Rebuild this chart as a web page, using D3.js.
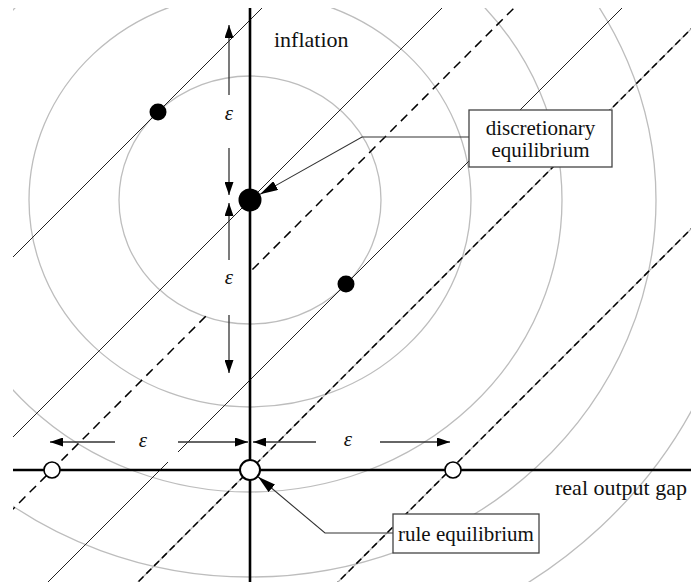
<!DOCTYPE html>
<html>
<head>
<meta charset="utf-8">
<script src="https://cdn.jsdelivr.net/npm/d3@7"></script>
<style>
html,body{margin:0;padding:0;background:#fff;}
svg{display:block;}
</style>
</head>
<body>
<svg id="chart" width="691" height="582"></svg>
<script>
// ---------- data (x = real output gap, y = inflation) ----------
const xDomain = [-2.37, 4.41];
const yDomain = [-1.12, 4.62];
// Phillips-type lines: inflation = gap + intercept
const solidIntercepts  = [4.5, 2.7, 0.9];
const dashedIntercepts = [1.98, 0, -2.0];
const greyUnderDashed  = [0, -2.0];
// loss-function contours centred on the discretionary outcome
const lossCenter = [0, 2.7];
const lossRx = [1.31, 2.21, 3.12, 4.06, 4.96];
const lossRy = [1.24, 2.07, 2.92, 3.77, 4.62];
// equilibria
const discretionaryEq = [0, 2.7];
const discretionaryDots = [[-0.92, 3.58], [0.96, 1.86]];
const ruleEq = [0, 0];
const ruleDots = [[-1.98, 0], [2.03, 0]];
// epsilon arrows: [tail, tip]
const epsArrows = [
  [[-0.21, 3.75], [-0.21, 4.45]],
  [[-0.21, 3.22], [-0.21, 2.75]],
  [[-0.21, 2.10], [-0.21, 2.67]],
  [[-0.21, 1.55], [-0.21, 0.97]],
  [[-1.35, 0.28], [-2.00, 0.28]],
  [[-0.72, 0.28], [-0.02, 0.28]],
  [[0.66, 0.28], [0.03, 0.28]],
  [[1.30, 0.28], [2.00, 0.28]]
];
const epsLabels = [[-0.21, 3.57], [-0.21, 1.93], [-1.07, 0.30], [0.98, 0.31]];
const epsMasks = [
  [-0.50, 0.01, 3.75, 3.22],
  [-0.50, 0.01, 2.10, 1.56],
  [-1.35, -0.72, 0.42, 0.08],
  [0.66, 1.30, 0.42, 0.08]
];
// labels
const axisLabels = [
  {text: "inflation", pos: [0.24, 4.23], anchor: "start"},
  {text: "real output gap", pos: [4.37, -0.25], anchor: "end"}
];
const callouts = [
  {lines: ["discretionary", "equilibrium"], box: [2.19, 3.62, 3.60, 3.03],
   path: [[2.19, 3.33], [1.12, 3.33]], target: discretionaryEq, targetR: 11.5},
  {lines: ["rule equilibrium"], box: [1.43, 2.89, -0.44, -0.83],
   path: [[1.43, -0.63], [0.75, -0.63]], target: ruleEq, targetR: 10.5}
];

// ---------- drawing ----------
const FONT = "'Liberation Serif', 'Times New Roman', Times, 'DejaVu Serif', serif";
const W = 691, H = 582;
const x = d3.scaleLinear().domain(xDomain).range([13, 691]);
const y = d3.scaleLinear().domain(yDomain).range([582, 8]);
const svg = d3.select("#chart");

const defs = svg.append("defs");
defs.append("clipPath").attr("id", "plot")
  .append("rect").attr("x", x(xDomain[0])).attr("y", y(yDomain[1]))
  .attr("width", x(xDomain[1]) - x(xDomain[0])).attr("height", y(yDomain[0]) - y(yDomain[1]));

const g = svg.append("g").attr("clip-path", "url(#plot)");

// loss contours
g.selectAll("ellipse.loss").data(lossRx.map((r, i) => [r, lossRy[i]])).join("ellipse")
  .attr("class", "loss")
  .attr("cx", x(lossCenter[0])).attr("cy", y(lossCenter[1]))
  .attr("rx", d => x(d[0]) - x(0)).attr("ry", d => y(0) - y(d[1]))
  .attr("fill", "none").attr("stroke", "#bdbdbd").attr("stroke-width", 1.3);

const lineEnds = b => [[xDomain[0] - 1, xDomain[0] - 1 + b], [xDomain[1] + 1, xDomain[1] + 1 + b]];
const lineGen = d3.line().x(d => x(d[0])).y(d => y(d[1]));

g.selectAll("path.grey").data(greyUnderDashed).join("path")
  .attr("d", b => lineGen(lineEnds(b)))
  .attr("fill", "none").attr("stroke", "#b0b0b0").attr("stroke-width", 1.2);

g.selectAll("path.solid").data(solidIntercepts).join("path")
  .attr("d", b => lineGen(lineEnds(b)))
  .attr("fill", "none").attr("stroke", "#222").attr("stroke-width", 1);

g.selectAll("path.dashed").data(dashedIntercepts).join("path")
  .attr("d", b => lineGen(lineEnds(b)))
  .attr("fill", "none").attr("stroke", "#000").attr("stroke-width", 1.5)
  .attr("stroke-dasharray", (b, i) => i === 0 ? "9,6" : "7,4");

// white masks behind epsilon labels
g.selectAll("rect.mask").data(epsMasks).join("rect")
  .attr("x", d => x(d[0])).attr("y", d => y(d[2]))
  .attr("width", d => x(d[1]) - x(d[0])).attr("height", d => y(d[3]) - y(d[2]))
  .attr("fill", "#fff");

// arrowhead marker helpers
function marker(id, len, wid) {
  defs.append("marker").attr("id", id)
    .attr("markerUnits", "userSpaceOnUse")
    .attr("viewBox", `0 ${-wid/2} ${len} ${wid}`)
    .attr("refX", len).attr("refY", 0)
    .attr("markerWidth", len).attr("markerHeight", wid)
    .attr("orient", "auto")
    .append("path").attr("d", `M0,${-wid/2}L${len},0L0,${wid/2}Z`).attr("fill", "#000");
}
marker("epsHead", 13, 9);
marker("callHead", 18, 10);

// epsilon arrows
svg.selectAll("line.eps").data(epsArrows).join("line")
  .attr("x1", d => x(d[0][0])).attr("y1", d => y(d[0][1]))
  .attr("x2", d => x(d[1][0])).attr("y2", d => y(d[1][1]))
  .attr("stroke", "#333").attr("stroke-width", 1.3)
  .attr("marker-end", "url(#epsHead)");

svg.selectAll("text.eps").data(epsLabels).join("text")
  .attr("x", d => x(d[0])).attr("y", d => y(d[1]))
  .attr("text-anchor", "middle").attr("dominant-baseline", "central")
  .attr("font-family", FONT)
  .attr("font-style", "italic").attr("font-size", 21).attr("fill", "#111")
  .text("ε");

// axes
svg.append("line")
  .attr("x1", x(0)).attr("x2", x(0)).attr("y1", y(yDomain[1])).attr("y2", y(yDomain[0]))
  .attr("stroke", "#000").attr("stroke-width", 2.6);
svg.append("line")
  .attr("x1", x(xDomain[0])).attr("x2", x(xDomain[1])).attr("y1", y(0)).attr("y2", y(0))
  .attr("stroke", "#000").attr("stroke-width", 2.4);

// dots
svg.selectAll("circle.disc").data(discretionaryDots).join("circle")
  .attr("cx", d => x(d[0])).attr("cy", d => y(d[1])).attr("r", 8.5).attr("fill", "#000");
svg.append("circle").attr("cx", x(discretionaryEq[0])).attr("cy", y(discretionaryEq[1]))
  .attr("r", 11.5).attr("fill", "#000");
svg.selectAll("circle.rule").data(ruleDots).join("circle")
  .attr("cx", d => x(d[0])).attr("cy", d => y(d[1])).attr("r", 8)
  .attr("fill", "#fff").attr("stroke", "#000").attr("stroke-width", 1.6);
svg.append("circle").attr("cx", x(ruleEq[0])).attr("cy", y(ruleEq[1]))
  .attr("r", 10).attr("fill", "#fff").attr("stroke", "#000").attr("stroke-width", 2);

// callouts
callouts.forEach(c => {
  const last = c.path[c.path.length - 1];
  const tx = x(c.target[0]), ty = y(c.target[1]);
  const lx = x(last[0]), ly = y(last[1]);
  const dx = lx - tx, dy = ly - ty, L = Math.hypot(dx, dy);
  const tip = [tx + dx / L * c.targetR, ty + dy / L * c.targetR];
  const pts = c.path.map(p => [x(p[0]), y(p[1])]).concat([tip]);
  svg.append("path").attr("d", d3.line()(pts))
    .attr("fill", "none").attr("stroke", "#333").attr("stroke-width", 1.1)
    .attr("marker-end", "url(#callHead)");
  const [bx0, bx1, by0, by1] = c.box;
  svg.append("rect").attr("x", x(bx0)).attr("y", y(by0))
    .attr("width", x(bx1) - x(bx0)).attr("height", y(by1) - y(by0))
    .attr("fill", "#fff").attr("stroke", "#444").attr("stroke-width", 1.3);
  const cx = (x(bx0) + x(bx1)) / 2, cy = (y(by0) + y(by1)) / 2;
  const lh = 22;
  c.lines.forEach((t, i) => {
    svg.append("text").attr("x", cx)
      .attr("y", cy + (i - (c.lines.length - 1) / 2) * lh + 7)
      .attr("text-anchor", "middle").attr("font-family", FONT)
      .attr("font-size", 21).attr("fill", "#111").text(t);
  });
});

// axis labels
svg.selectAll("text.axlab").data(axisLabels).join("text")
  .attr("x", d => x(d.pos[0])).attr("y", d => y(d.pos[1]))
  .attr("text-anchor", d => d.anchor).attr("font-family", FONT)
  .attr("font-size", 22).attr("fill", "#111")
  .text(d => d.text);
</script>
</body>
</html>
